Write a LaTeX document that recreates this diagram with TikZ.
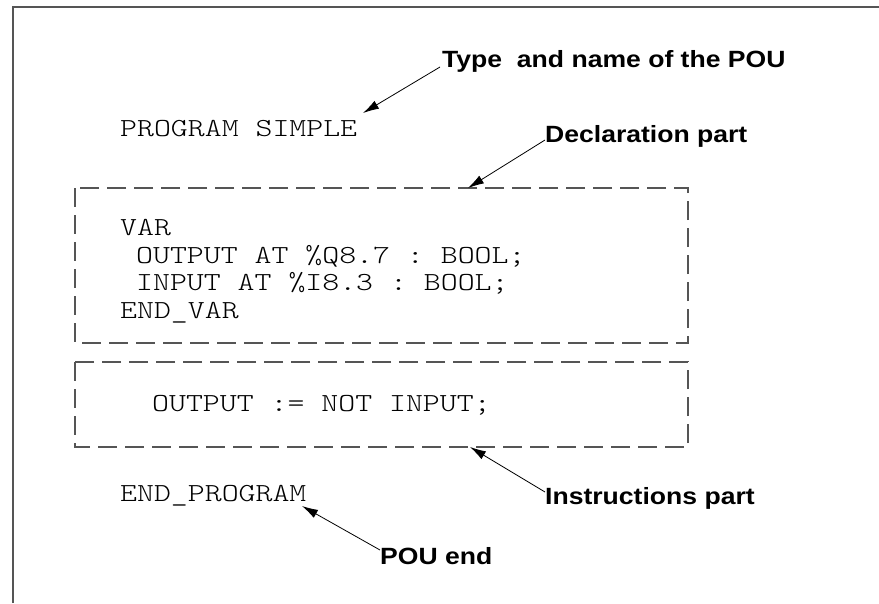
\documentclass[tikz,border=0pt]{standalone}
\usepackage{fontspec}
\setmainfont{Liberation Sans}
\newfontfamily\labelfont[FakeStretch=1.13]{Liberation Sans}
\newfontfamily\codefont[FakeStretch=1.24]{lmmonolt10-regular.otf}
\usetikzlibrary{arrows.meta}
\definecolor{framegray}{HTML}{555555}
\frenchspacing

\begin{document}
\begin{tikzpicture}[x=1pt,y=-1pt,
    code/.style={anchor=base west,inner sep=0pt,font=\codefont\fontsize{26}{26}\selectfont},
    partlabel/.style={anchor=base west,inner sep=0pt,font=\labelfont\bfseries\fontsize{23.5}{23.5}\selectfont},
    partbox/.style={draw=framegray,line width=1.2pt,dash pattern=on 19pt off 8pt},
    pointer/.style={-{Latex[length=16pt,width=9pt]},line width=0.8pt}]
    \useasboundingbox (0,0) rectangle (879,603);
    % Draw the outer frame
    \draw[framegray,line width=1.5pt] (13,603) -- (13,7) -- (879,7);
    % Draw the two parts
    \draw[partbox] (75,188) rectangle (688,343);
    \draw[partbox] (75,362) rectangle (688,447);
    % The program text
    \node[code] (prog) at (120,136) {PROGRAM SIMPLE};
    \node[code] (var) at (120,235) {VAR};
    \node[code] (outdecl) at (136,263) {OUTPUT AT \%Q8.7 : BOOL;};
    \node[code] (indecl) at (136,290) {INPUT AT \%I8.3 : BOOL;};
    \node[code] (endvar) at (120,318) {END\_VAR};
    \node[code] (instr) at (152,411) {OUTPUT := NOT INPUT;};
    \node[code] (endprog) at (120,501) {END\_PROGRAM};
    % The explanations
    \node[partlabel] (typelbl) at (442,67) {Type\ \ and name of the POU};
    \node[partlabel] (decllbl) at (545,142) {Declaration part};
    \node[partlabel] (instrlbl) at (545,504) {Instructions part};
    \node[partlabel] (endlbl) at (380,564) {POU end};
    % Arrow tips
    \coordinate (typetip) at (363,113);
    \coordinate (decltip) at (468,188);
    \coordinate (instrtip) at (470,447);
    \coordinate (endtip) at (302,506);
    % Draw the arrows
    \draw[pointer] ([xshift=-2pt]typelbl.base west) -- (typetip);
    \draw[pointer] ([yshift=2pt]decllbl.base west) -- (decltip);
    \draw[pointer] ([yshift=12pt]instrlbl.base west) -- (instrtip);
    \draw[pointer] ([yshift=14pt]endlbl.base west) -- (endtip);
\end{tikzpicture}
\end{document}
